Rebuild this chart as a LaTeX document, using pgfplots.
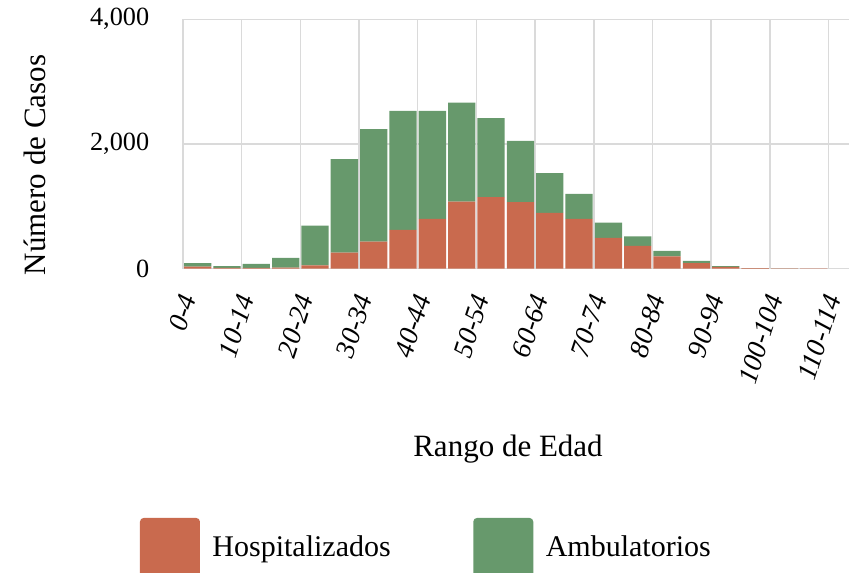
\documentclass[border=0pt]{standalone}
\usepackage{fontspec}
\setmainfont{Liberation Serif}
\usepackage{pgfplots}
\pgfplotsset{compat=1.18}
\definecolor{hosp}{RGB}{201,106,78}
\definecolor{amb}{RGB}{103,153,108}
\definecolor{gridc}{RGB}{218,218,218}
\begin{document}
\begin{tikzpicture}
\begin{axis}[
  name=ax, at={(0,0)}, anchor=south west,
  scale only axis, width=266.4pt, height=99.7pt,
  xmin=0, xmax=22.7, ymin=0, ymax=4000,
  ybar stacked, bar width=0.93, bar shift=0pt,
  axis line style={draw=none}, major tick length=0pt,
  grid=major, grid style={gridc, line width=0.6pt},
  xtick={0,2,...,22},
  xticklabels={0-4,10-14,20-24,30-34,40-44,50-54,60-64,70-74,80-84,90-94,100-104,110-114},
  xticklabel style={rotate=72, anchor=east, font=\fontsize{11}{13}\selectfont\itshape, xshift=-6pt, yshift=-5.2pt},
  ytick={0,2000,4000},
  yticklabels={0,{2,000},{4,000}},
  yticklabel style={font=\fontsize{10.5}{12}\selectfont, xshift=-10pt},
  xlabel={Rango de Edad},
  ylabel={Número de Casos},
  label style={font=\fontsize{12.4}{14}\selectfont},
  xlabel style={at={(axis description cs:0.488,-0.724)}, anchor=center},
  ylabel style={at={(axis description cs:-0.222,0.415)}, anchor=center},
  legend columns=2,
  legend style={draw=none, fill=none, inner sep=0pt, outer sep=0pt,
    at={(axis description cs:-0.0646,-1.121)}, anchor=west,
    font=\fontsize{12}{14}\selectfont,
    /tikz/every odd column/.append style={column sep=3pt},
    /tikz/every even column/.append style={column sep=31pt}},
  legend image code/.code={\fill[#1, draw=none, rounded corners=1.5pt] (0pt,-12pt) rectangle (24pt,12pt);},
]
\addplot[fill=hosp, draw=none] coordinates {
(0.5,32) (1.5,10) (2.5,12) (3.5,15) (4.5,50) (5.5,255) (6.5,433) (7.5,620)
(8.5,797) (9.5,1075) (10.5,1145) (11.5,1065) (12.5,893) (13.5,797) (14.5,492)
(15.5,364) (16.5,193) (17.5,86) (18.5,28) (19.5,6) (20.5,2) (21.5,1) (22.5,0)};
\addlegendentry{Hospitalizados}
\addplot[fill=amb, draw=none] coordinates {
(0.5,54) (1.5,30) (2.5,63) (3.5,155) (4.5,640) (5.5,1500) (6.5,1803) (7.5,1910)
(8.5,1733) (9.5,1589) (10.5,1268) (11.5,984) (12.5,637) (13.5,401) (14.5,246)
(15.5,150) (16.5,91) (17.5,37) (18.5,9) (19.5,2) (20.5,1) (21.5,0) (22.5,0)};
\addlegendentry{Ambulatorios}
\end{axis}
\pgfresetboundingbox
\path[use as bounding box] (-73.2pt,-121.4pt) rectangle (266.4pt,107.4pt);
\end{tikzpicture}
\end{document}
